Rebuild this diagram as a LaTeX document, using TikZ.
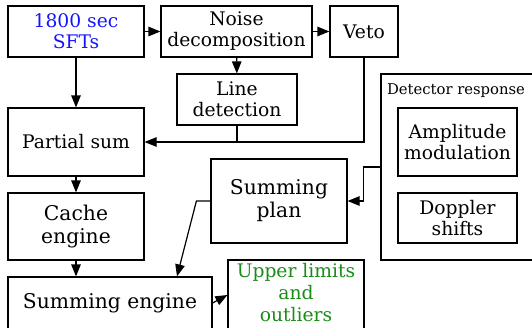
\documentclass[tikz,border=0pt]{standalone}
\usepackage{fontspec}
\setmainfont{DejaVu Serif}
\usetikzlibrary{arrows.meta,calc}
\definecolor{sftblue}{RGB}{20,20,255}
\definecolor{outgreen}{RGB}{25,140,25}
\begin{document}
\begin{tikzpicture}[x=1pt,y=-1pt,
  box/.style={draw, line width=1.2pt, inner sep=0pt, align=center, font=\fontsize{18.7}{21}\selectfont},
  bigbox/.style={box, font=\fontsize{20.3}{23}\selectfont},
  conn/.style={line width=1.2pt, -{Triangle[length=12pt,width=9.5pt]}},
  plain/.style={line width=1.2pt}]
\useasboundingbox (0,0) rectangle (532,327);
\node[box, minimum width=136pt, minimum height=51pt, text=sftblue] (sft) at (76,31.5) {1800 sec\\SFTs};
\node[box, minimum width=151pt, minimum height=51pt] (noise) at (236.5,31.5) {Noise\\decomposition};
\node[box, minimum width=68pt, minimum height=51pt] (veto) at (364,31.5) {Veto};
\node[box, minimum width=120pt, minimum height=51pt] (line) at (237,99.5) {Line\\detection};
\node[box, minimum width=136pt, minimum height=68pt] (partial) at (76,142) {Partial sum};
\node[bigbox, minimum width=136pt, minimum height=67pt] (cache) at (76,226.5) {Cache\\engine};
\node[bigbox, minimum width=204pt, minimum height=52pt] (sumeng) at (110,303) {Summing engine};
\node[box, minimum width=136pt, minimum height=70pt] (upper) at (296,295) {};
\node[align=center, inner sep=0pt, text=outgreen, font=\fontsize{18.7}{22}\selectfont] (uppertext) at (296,292.5) {Upper limits\\and\\outliers};
\node[bigbox, minimum width=136pt, minimum height=84pt] (plan) at (279,201) {Summing\\plan};
\node[box, minimum width=160pt, minimum height=186pt] (det) at (461,167) {};
\node[font=\fontsize{14.8}{17}\selectfont, inner sep=0pt] (detlabel) at (456,91) {Detector response};
\node[box, minimum width=119pt, minimum height=68pt] (amp) at (457.5,142) {Amplitude\\modulation};
\node[box, minimum width=119pt, minimum height=50pt] (dop) at (457.5,218) {Doppler\\shifts};
\draw[conn] (sft) -- (noise);
\draw[conn] (noise) -- (veto);
\draw[conn] (noise) -- (line);
\draw[conn] (sft) -- (partial);
\draw[conn] (veto.south) |- (partial.east);
\draw[plain] (line.south) -- (line.south |- partial.east);
\draw[conn] (partial) -- (cache);
\draw[conn] (cache.south) -- (cache.south |- sumeng.north);
\draw[conn] (det.west) -- ++(-17,0) |- (plan.east);
\draw[conn] (plan.west) -- ++(-14,0) -- ([xshift=67pt]sumeng.north);
\draw[conn] (sumeng.east) -- (upper.west);
\end{tikzpicture}
\end{document}
